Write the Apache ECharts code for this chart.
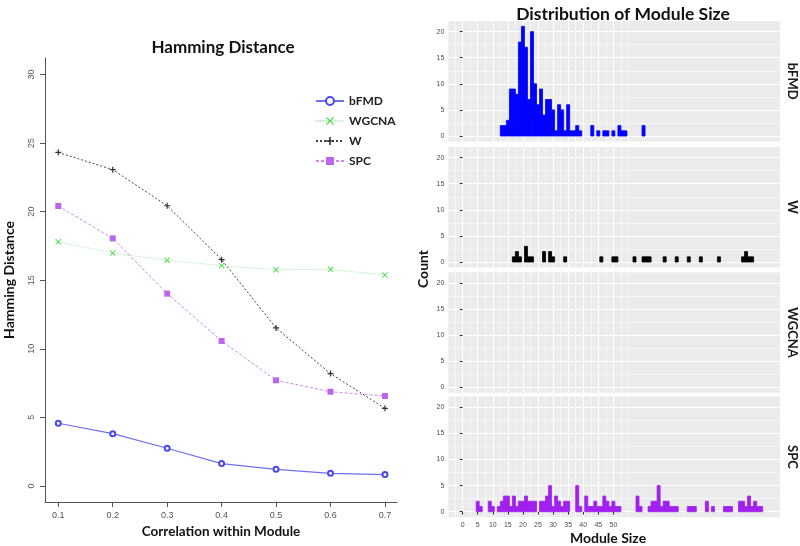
<!DOCTYPE html>
<html><head><meta charset="utf-8">
<script src="https://cdn.jsdelivr.net/npm/echarts@6/dist/echarts.min.js"></script>
<style>html,body{margin:0;padding:0;background:#fff}#c{width:800px;height:546px}</style>
</head><body><div id="c"></div>
<script>
// ---------- Left chart: Hamming distance ----------
const correlation = [0.1, 0.2, 0.3, 0.4, 0.5, 0.6, 0.7];
const hdBFMD  = [4.57, 3.81, 2.75, 1.63, 1.21, 0.92, 0.83];
const hdWGCNA = [17.8, 16.98, 16.45, 16.06, 15.77, 15.79, 15.38];
const hdW     = [24.32, 23.06, 20.43, 16.5, 11.52, 8.19, 5.66];
const hdSPC   = [20.41, 18.05, 14.02, 10.57, 7.7, 6.87, 6.56];
const hdTicks = [0, 5, 10, 15, 20, 25, 30];
const corrTicks = [0.1, 0.2, 0.3, 0.4, 0.5, 0.6, 0.7];

// ---------- Right chart: module size histograms (bin centre = module size) ----------
const bfmdSize  = [13,14,15,16,17,18,19,20,21,22,23,24,25,26,27,28,29,30,31,32,33,34,35,36,37,38,39,43,45,47,48,50,52,53,54,60];
const bfmdCount = [2,2,3,9,9,8,18,21,17,7,20,10,6,9,4,7,7,5,1,6,5,1,6,1,1,2,1,2,1,1,1,1,2,1,1,2];
const wSize  = [17,18,19,21,22,23,27,29,30,34,46,50,51,57,60,61,62,67,71,75,79,85,93,94,95,96];
const wCount = [1,2,1,3,1,1,2,2,1,1,1,1,1,1,1,1,1,1,1,1,1,1,1,2,1,1];
const wgcnaSize  = [];
const wgcnaCount = [];
const spcSize  = [5,6,9,10,12,13,14,15,16,17,18,19,20,21,22,23,24,26,27,28,29,30,31,32,33,34,35,38,39,41,42,43,44,45,46,47,48,49,50,51,52,58,59,62,63,64,65,66,67,68,69,70,71,75,76,77,81,83,87,88,89,92,93,94,95,96,97,98,99];
const spcCount = [2,1,2,1,1,2,3,3,1,3,1,2,2,3,2,2,2,2,2,3,5,1,3,2,1,2,2,5,1,3,1,1,2,1,1,3,2,1,2,1,1,3,1,1,2,2,5,1,2,2,1,1,1,1,1,1,2,1,1,1,1,2,2,1,3,1,2,1,1];
const facetNames = ['bFMD', 'W', 'WGCNA', 'SPC'];
const sizeTicks = [0, 5, 10, 15, 20, 25, 30, 35, 40, 45, 50];
const countTicks = [0, 5, 10, 15, 20];

const facetData = [
  {size: bfmdSize, count: bfmdCount, color: '#0000ff'},
  {size: wSize, count: wCount, color: '#000000'},
  {size: wgcnaSize, count: wgcnaCount, color: '#2ca02c'},
  {size: spcSize, count: spcCount, color: '#a020f0'}
];

const chart = echarts.init(document.getElementById('c'), null, {renderer: 'canvas'});

const XPATH = 'path://M0,1 L1,0 L5,4 L9,0 L10,1 L6,5 L10,9 L9,10 L5,6 L1,10 L0,9 L4,5 Z';
const PLUS = 'path://M4,0 H6 V4 H10 V6 H6 V10 H4 V6 H0 V4 H4 Z';

const grids = [{left: 45, top: 58, width: 352, height: 444}];
const xAxes = [{
  type: 'value', gridIndex: 0, min: 0.0756, max: 0.7221,
  axisLine: {show: true, onZero: false, lineStyle: {color: '#555', width: 1}},
  axisTick: {show: true, customValues: corrTicks, length: 5, lineStyle: {color: '#555'}},
  axisLabel: {customValues: corrTicks, color: '#555', fontSize: 9, margin: 9, fontFamily: 'Liberation Sans',
    formatter: v => v.toFixed(1)},
  splitLine: {show: false},
  name: 'Correlation within Module', nameLocation: 'middle', nameGap: 23,
  nameTextStyle: {fontFamily: 'Lato', fontWeight: 'bold', fontSize: 13.5, color: '#111'}
}];
const yAxes = [{
  type: 'value', gridIndex: 0, min: -1.17, max: 31.2,
  axisLine: {show: true, onZero: false, lineStyle: {color: '#555', width: 1}},
  axisTick: {show: true, customValues: hdTicks, length: 5, lineStyle: {color: '#555'}},
  axisLabel: {customValues: hdTicks, color: '#555', fontSize: 9, margin: 9, rotate: 90, fontFamily: 'Liberation Sans'},
  splitLine: {show: false},
  name: 'Hamming Distance', nameLocation: 'middle', nameGap: 29, nameRotate: 90,
  nameTextStyle: {fontFamily: 'Lato', fontWeight: 'bold', fontSize: 14, color: '#111'}
}];

const facetTops = [20.9, 146.9, 272.2, 396.6];
const minorX = [];
for (let v = -2.5; v <= 55; v += 5) { minorX.push(v); }
minorX.push(55);
const minorY = [2.5, 7.5, 12.5, 17.5];

const series = [
  {name: 'bFMD', type: 'line', xAxisIndex: 0, yAxisIndex: 0,
   data: correlation.map((c, i) => [c, hdBFMD[i]]),
   lineStyle: {color: '#6f6ff2', width: 1.2}, symbol: 'emptyCircle', symbolSize: 5,
   itemStyle: {color: '#4a4ae8', borderWidth: 1.1}},
  {name: 'WGCNA', type: 'line', xAxisIndex: 0, yAxisIndex: 0,
   data: correlation.map((c, i) => [c, hdWGCNA[i]]),
   lineStyle: {color: '#c4f2c4', width: 1, type: [2, 1]}, symbol: XPATH, symbolSize: 6,
   itemStyle: {color: '#3ddc3d'}},
  {name: 'W', type: 'line', xAxisIndex: 0, yAxisIndex: 0,
   data: correlation.map((c, i) => [c, hdW[i]]),
   lineStyle: {color: '#444', width: 1, type: [2, 2]}, symbol: PLUS, symbolSize: 6,
   itemStyle: {color: '#333'}},
  {name: 'SPC', type: 'line', xAxisIndex: 0, yAxisIndex: 0,
   data: correlation.map((c, i) => [c, hdSPC[i]]),
   lineStyle: {color: '#cc88ee', width: 1, type: [3, 2]}, symbol: 'rect', symbolSize: 6,
   itemStyle: {color: '#bb66ee'}}
];

facetData.forEach((f, k) => {
  grids.push({left: 448.3, top: facetTops[k], width: 333.4, height: 120.6,
    show: true, backgroundColor: '#ebebeb', borderWidth: 0});
  const gi = k + 1;
  const bottom = (k === 3);
  xAxes.push({
    type: 'value', gridIndex: gi, min: -4.75, max: 105.25, position: 'bottom',
    axisLine: {show: false},
    axisTick: {show: bottom, customValues: sizeTicks, length: 3, lineStyle: {color: '#333'}},
    axisLabel: {show: bottom, customValues: sizeTicks, fontSize: 7, color: '#4d4d4d', margin: 4, fontFamily: 'Liberation Sans'},
    splitLine: {show: true, lineStyle: {color: '#ffffff', width: 1}}
  });
  xAxes.push({
    type: 'value', gridIndex: gi, min: -4.75, max: 105.25, position: 'top',
    axisLine: {show: false}, axisLabel: {show: false},
    axisTick: {show: false, customValues: minorX},
    splitLine: {show: true, lineStyle: {color: '#ffffff', width: 0.6}}
  });
  yAxes.push({
    type: 'value', gridIndex: gi, min: -1.05, max: 22.05, position: 'left',
    axisLine: {show: false},
    axisTick: {show: true, customValues: countTicks, length: 3, lineStyle: {color: '#333'}},
    axisLabel: {customValues: countTicks, fontSize: 7, color: '#4d4d4d', margin: 4, fontFamily: 'Liberation Sans'},
    splitLine: {show: true, lineStyle: {color: '#ffffff', width: 1}}
  });
  yAxes.push({
    type: 'value', gridIndex: gi, min: -1.05, max: 22.05, position: 'right',
    axisLine: {show: false}, axisLabel: {show: false},
    axisTick: {show: false, customValues: minorY},
    splitLine: {show: true, lineStyle: {color: '#ffffff', width: 0.6}},
    name: facetNames[k], nameLocation: 'middle', nameRotate: -90, nameGap: 6,
    nameTextStyle: {fontFamily: 'Lato', fontWeight: 'bold', fontSize: 13, color: '#1a1a1a'}
  });
  const color = f.color;
  series.push({
    type: 'custom', xAxisIndex: 2 * k + 1, yAxisIndex: 2 * k + 1, z: 5,
    data: f.size.map((s, i) => [s, f.count[i]]),
    encode: {x: 0, y: 1},
    renderItem: function (params, api) {
      const x = api.value(0), c = api.value(1);
      const p0 = api.coord([x - 0.5, c]);
      const p1 = api.coord([x + 0.5, 0]);
      return {type: 'rect', shape: {x: p0[0], y: p0[1], width: p1[0] - p0[0], height: p1[1] - p0[1]},
        style: {fill: color, stroke: color, lineWidth: 0.8}};
    }
  });
});

chart.setOption({
  animation: false,
  backgroundColor: '#ffffff',
  title: [
    {text: 'Hamming Distance', left: 218, top: 34, textAlign: 'center',
     textStyle: {fontFamily: 'Lato', fontWeight: 'bold', fontSize: 17, color: '#111'}},
    {text: 'Distribution of Module Size', left: 618, top: 0, textAlign: 'center',
     textStyle: {fontFamily: 'Lato', fontWeight: 'bold', fontSize: 17.5, color: '#111'}}
  ],
  legend: {
    orient: 'vertical', left: 310, top: 89, itemWidth: 28, itemHeight: 10, itemGap: 6,
    textStyle: {fontFamily: 'Lato', fontWeight: 'bold', fontSize: 12, color: '#222', lineHeight: 14},
    data: ['bFMD', 'WGCNA', 'W', 'SPC']
  },
  grid: grids,
  xAxis: xAxes,
  yAxis: yAxes,
  series: series,
  graphic: [
    {type: 'text', x: 423, y: 269, rotation: Math.PI / 2,
     style: {text: 'Count', font: 'bold 14px Lato', fill: '#111', align: 'center', verticalAlign: 'middle',
       textAlign: 'center', textVerticalAlign: 'middle'}},
    {type: 'text', x: 608, y: 538,
     style: {text: 'Module Size', font: 'bold 14px Lato', fill: '#111', align: 'center', verticalAlign: 'middle',
       textAlign: 'center', textVerticalAlign: 'middle'}}
  ]
});
</script></body></html>
